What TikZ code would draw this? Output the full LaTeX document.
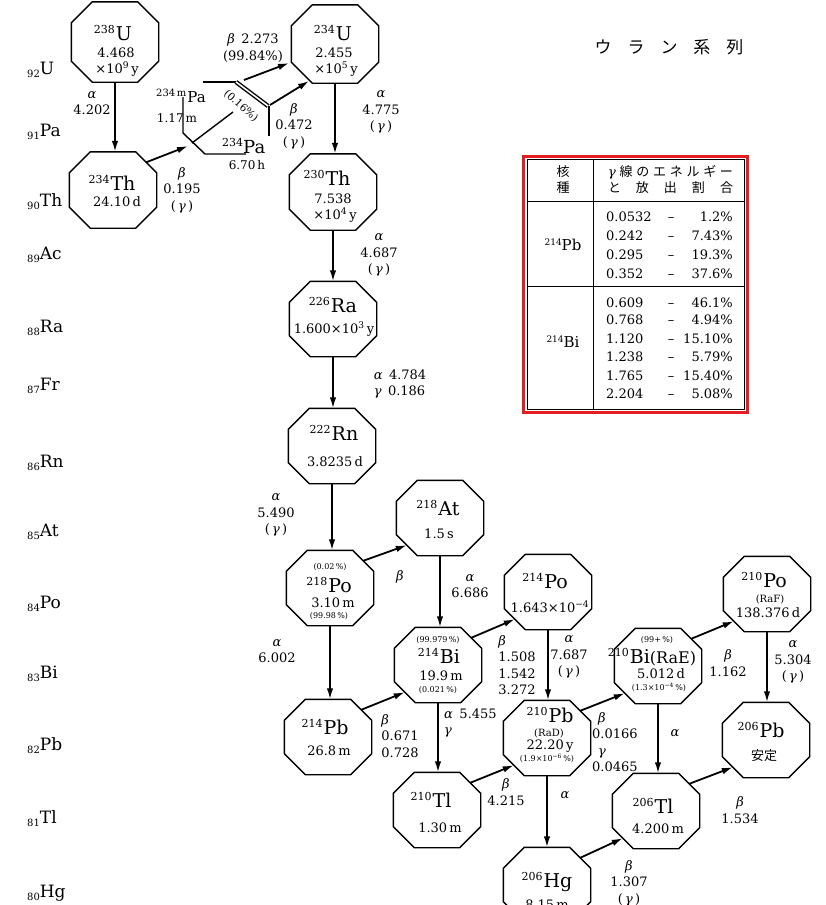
\documentclass[tikz,border=0pt]{standalone}
\usepackage{fontspec}
\setmainfont{DejaVu Serif}
\newfontfamily\jpf{Noto Sans CJK JP}
\usetikzlibrary{arrows.meta}
\newcommand\fs[1]{\fontsize{#1}{#1}\selectfont}
\newcommand\iso[2]{{\fs{11}\raisebox{7pt}{#1}}\kern1pt{\fs{19}#2}}
\newcommand\zl[2]{{\fs{10}\raisebox{-3pt}{#1}}{\fs{17}#2}}
\newcommand\gk[1]{\textit{#1}}
\newcommand\sm[1]{{\fs{8}#1}}
\newcommand\up[1]{\textsuperscript{#1}}
\newcommand\gam{(\,\gk{γ}\,)}
\newcommand\octo[4][75]{%
 \node[octbox, minimum height=#1pt] (#2) at (#3,#4) {};
 \draw[octline] ([xshift=21pt]#2.north west) -- ([xshift=-21pt]#2.north east) -- ([yshift=-21pt]#2.north east) -- ([yshift=21pt]#2.south east) -- ([xshift=-21pt]#2.south east) -- ([xshift=21pt]#2.south west) -- ([yshift=21pt]#2.south west) -- ([yshift=-21pt]#2.north west) -- cycle;
 \coordinate (#2-ne) at ([xshift=-10.5pt,yshift=-10.5pt]#2.north east);
 \coordinate (#2-sw) at ([xshift=10.5pt,yshift=10.5pt]#2.south west);
}
\newcommand\trow[4]{%
 \node[tx,anchor=base west] (#1a) at (606,#2) {#3};
 \node[tx] (#1b) at (671,#2) {–};
 \node[tx,anchor=base east] (#1c) at (733,#2) {#4\%};
}
\newcommand\vdecay[2]{\draw[arr] (#1.south) -- (#1.south |- #2.north);}
\definecolor{tred}{RGB}{226,30,36}
\begin{document}
\begin{tikzpicture}[x=1pt,y=-1pt,
 octline/.style={line width=1.4pt, line join=miter},
 octbox/.style={inner sep=0pt, minimum width=87pt, minimum height=75pt},
 arr/.style={line width=1.8pt, -{Latex[length=11pt,width=6.5pt]}},
 tx/.style={inner sep=0pt, anchor=base, font=\fs{13}},
 lab/.style={inner sep=0pt, align=center, font=\fontsize{13}{16.5}\selectfont},
 labl/.style={lab, align=left},
 zlab/.style={inner sep=0pt, anchor=base west}]
\useasboundingbox (0,0) rectangle (826,905);
\fill[white] (0,0) rectangle (826,905);
\clip (0,0) rectangle (826,905);

% title
\node[inner sep=0pt, font=\jpf\fs{17}] (title) at (669,47) {ウ\hspace{16pt}ラ\hspace{16pt}ン\hspace{16pt}系\hspace{16pt}列};

% Z labels
\node[zlab] (Z92) at (27,74) {\zl{92}{U}};
\node[zlab] (Z91) at (27,136) {\zl{91}{Pa}};
\node[zlab] (Z90) at (27,206) {\zl{90}{Th}};
\node[zlab] (Z89) at (27,259) {\zl{89}{Ac}};
\node[zlab] (Z88) at (27,332) {\zl{88}{Ra}};
\node[zlab] (Z87) at (27,390) {\zl{87}{Fr}};
\node[zlab] (Z86) at (27,467) {\zl{86}{Rn}};
\node[zlab] (Z85) at (27,536) {\zl{85}{At}};
\node[zlab] (Z84) at (27,608) {\zl{84}{Po}};
\node[zlab] (Z83) at (27,678) {\zl{83}{Bi}};
\node[zlab] (Z82) at (27,750) {\zl{82}{Pb}};
\node[zlab] (Z81) at (27,823) {\zl{81}{Tl}};
\node[zlab] (Z80) at (27,897) {\zl{80}{Hg}};

% octagons
\octo[80]{U238}{115}{42}
\octo[78]{U234}{335}{44}
\octo[76]{Th234}{113}{190}
\octo[76]{Th230}{333}{192}
\octo{Ra226}{333}{319}
\octo{Rn222}{332}{446}
\octo{Po218}{330}{588}
\octo{At218}{440}{518}
\octo{Bi214}{438}{665}
\octo{Po214}{548}{592}
\octo{Pb214}{328}{737}
\octo{Pb210}{547}{738}
\octo{Bi210}{658}{666}
\octo{Po210}{767}{594}
\octo{Pb206}{766}{740}
\octo{Tl210}{437}{810}
\octo{Tl206}{656}{811}
\octo{Hg206}{547}{885}

% nuclide texts
\node[tx] (U238a) at (113,40) {\iso{238}{U}};
\node[tx] (U238b) at (116,57) {4.468};
\node[tx] (U238c) at (117,73) {×10\up{9}\,y};
\node[tx] (U234a) at (333,40) {\iso{234}{U}};
\node[tx] (U234b) at (334,57) {2.455};
\node[tx] (U234c) at (336,73) {×10\up{5}\,y};
\node[tx] (Th234a) at (112,190) {\iso{234}{Th}};
\node[tx] (Th234b) at (117,206) {24.10\,d};
\node[tx] (Th230a) at (327,185) {\iso{230}{Th}};
\node[tx] (Th230b) at (333,203) {7.538};
\node[tx] (Th230c) at (335,219) {×10\up{4}\,y};
\node[tx] (Ra226a) at (333,312) {\iso{226}{Ra}};
\node[tx] (Ra226b) at (334,333) {1.600×10\up{3}\,y};
\node[tx] (Rn222a) at (334,440) {\iso{222}{Rn}};
\node[tx] (Rn222b) at (335,466) {3.8235\,d};
\node[tx] (Po218a) at (330,569) {\sm{(0.02\,\%)}};
\node[tx] (Po218b) at (329,592) {\iso{218}{Po}};
\node[tx] (Po218c) at (333,607) {3.10\,m};
\node[tx] (Po218d) at (329,618) {\sm{(99.98\,\%)}};
\node[tx] (At218a) at (438,515) {\iso{218}{At}};
\node[tx] (At218b) at (439,538) {1.5\,s};
\node[tx] (Bi214a) at (438,642) {\sm{(99.979\,\%)}};
\node[tx] (Bi214b) at (439,663) {\iso{214}{Bi}};
\node[tx] (Bi214c) at (441,680) {19.9\,m};
\node[tx] (Bi214d) at (438,692) {\sm{(0.021\,\%)}};
\node[tx] (Po214a) at (545,588) {\iso{214}{Po}};
\node[tx] (Po214b) at (550,612) {1.643×10\up{−4}};
\node[tx] (Pb214a) at (325,734) {\iso{214}{Pb}};
\node[tx] (Pb214b) at (329,755) {26.8\,m};
\node[tx] (Pb210a) at (550,722) {\iso{210}{Pb}};
\node[tx] (Pb210b) at (549,736) {\fs{10}(RaD)};
\node[tx] (Pb210c) at (550,749) {22.20\,y};
\node[tx] (Pb210d) at (547,761) {\sm{(1.9×10\up{−6}\,\%)}};
\node[tx] (Bi210a) at (657,642) {\sm{(99+\,\%)}};
\node[tx] (Bi210b) at (652,663) {\iso{210}{Bi}{\fs{16}(RaE)}};
\node[tx] (Bi210c) at (661,678) {5.012\,d};
\node[tx] (Bi210d) at (659,690) {\sm{(1.3×10\up{−4}\,\%)}};
\node[tx] (Po210a) at (764,587) {\iso{210}{Po}};
\node[tx] (Po210b) at (770,602) {\fs{10}(RaF)};
\node[tx] (Po210c) at (768,617) {138.376\,d};
\node[tx] (Pb206a) at (761,737) {\iso{206}{Pb}};
\node[tx, font=\jpf\fs{13}] (Pb206b) at (764,760) {安定};
\node[tx] (Tl210a) at (431,807) {\iso{210}{Tl}};
\node[tx] (Tl210b) at (440,832) {1.30\,m};
\node[tx] (Tl206a) at (653,813) {\iso{206}{Tl}};
\node[tx] (Tl206b) at (658,833) {4.200\,m};
\node[tx] (Hg206a) at (547,887) {\iso{206}{Hg}};
\node[tx] (Hg206b) at (547,909) {8.15\,m};

% Pa (234m / 234) region
\draw[octline] (203,82) -- (236,82);
\draw[octline, double, double distance=1.6pt] (236,82) -- (268,106);
\draw[octline] (269,106) -- (269,136);
\draw[octline] (246,154) -- (205,154) -- (183,133) -- (183,97);
\draw[octline] (192,143) -- (233,112);
\node[tx, anchor=base west] (Pam) at (156,102) {{\fs{10}\raisebox{6pt}{234\,m}}\kern1pt{\fs{15}Pa}};
\node[tx] (Pamt) at (177,122) {\fs{12}1.17\,m};
\node[tx, anchor=base west] (Pa) at (222,153) {{\fs{11}\raisebox{7pt}{234}}{\fs{18}Pa}};
\node[tx] (Pat) at (247,169) {\fs{12}6.70\,h};
\node[inner sep=0pt, rotate=-42, font=\fs{10.5}] (Paiso) at (241,106) {(0.16\%)};
\coordinate (PaIn) at (188,146);
\coordinate (PamOut) at (244,80);
\coordinate (U234in1) at (289,63);
\coordinate (PaOut) at (270,105);
\coordinate (U234in2) at (309,81);
\draw[arr] (Th234-ne) -- (PaIn);
\draw[arr] (PamOut) -- (U234in1);
\draw[arr] (PaOut) -- (U234in2);

% vertical decays
\vdecay{U238}{Th234}
\vdecay{U234}{Th230}
\vdecay{Th230}{Ra226}
\vdecay{Ra226}{Rn222}
\vdecay{Rn222}{Po218}
\vdecay{Po218}{Pb214}
\vdecay{At218}{Bi214}
\vdecay{Bi214}{Tl210}
\vdecay{Po214}{Pb210}
\vdecay{Pb210}{Hg206}
\vdecay{Bi210}{Tl206}
\vdecay{Po210}{Pb206}

% diagonal decays
\draw[arr] (Po218-ne) -- (At218-sw);
\draw[arr] (Pb214-ne) -- (Bi214-sw);
\draw[arr] (Bi214-ne) -- (Po214-sw);
\draw[arr] (Tl210-ne) -- (Pb210-sw);
\draw[arr] (Pb210-ne) -- (Bi210-sw);
\draw[arr] (Bi210-ne) -- (Po210-sw);
\draw[arr] (Tl206-ne) -- (Pb206-sw);
\draw[arr] (Hg206-ne) -- (Tl206-sw);

% decay labels
\node[lab] (L1) at (92,103) {\gk{α}\\4.202};
\node[lab] (L2) at (182,190) {\gk{β}\\0.195\\\gam};
\node[lab] (L3) at (253,48) {\gk{β}\enspace 2.273\\(99.84\%)};
\node[lab] (L4) at (294,126) {\gk{β}\\0.472\\\gam};
\node[lab] (L5) at (381,112) {\gk{α}\\4.775\\\gam};
\node[lab] (L6) at (379,255) {\gk{α}\\4.687\\\gam};
\node[labl] (L7) at (400,384) {\gk{α}\enspace 4.784\\\gk{γ}\enspace 0.186};
\node[lab] (L8) at (276,515) {\gk{α}\\5.490\\\gam};
\node[lab] (L9) at (400,577) {\gk{β}};
\node[lab] (L10) at (470,586) {\gk{α}\\6.686};
\node[lab] (L11) at (277,651) {\gk{α}\\6.002};
\node[labl] (L12) at (400,736) {\gk{β}\\0.671\\0.728};
\node[labl] (L13) at (517,665) {\gk{β}\\1.508\\1.542\\3.272};
\node[lab] (L14) at (569,657) {\gk{α}\\7.687\\\gam};
\node[labl, anchor=west] (L15) at (444,723) {\gk{α}\enspace 5.455\\\gk{γ}};
\node[lab] (L16) at (506,792) {\gk{β}\\4.215};
\node[labl, anchor=west] (L17) at (592,742) {\hspace*{6pt}\gk{β}\\0.0166\\\hspace*{6pt}\gk{γ}\\0.0465};
\node[lab] (L18) at (565,795) {\gk{α}};
\node[lab] (L19) at (728,663) {\gk{β}\\1.162};
\node[lab] (L20) at (675,733) {\gk{α}};
\node[lab] (L21) at (793,662) {\gk{α}\\5.304\\\gam};
\node[lab] (L22) at (740,810) {\gk{β}\\1.534};
\node[lab] (L23) at (629,883) {\gk{β}\\1.307\\\gam};

% table
\draw[line width=0.9pt] (527,159) rectangle (744,409);
\draw[line width=0.9pt] (593,159) -- (593,409);
\draw[line width=0.9pt] (527,201) -- (744,201);
\draw[line width=0.9pt] (527,286) -- (744,286);
\draw[tred, line width=3pt] (523,156) rectangle (747,412);
\node[inner sep=0pt, font=\jpf\fs{13}] (h1) at (563,172) {核};
\node[inner sep=0pt, font=\jpf\fs{13}] (h2) at (563,188) {種};
\node[inner sep=0pt, text width=125pt, font=\jpf\fs{13}] (h3) at (670.5,172) {\noindent{\rmfamily\textit{γ}}\hfill 線\hfill の\hfill エ\hfill ネ\hfill ル\hfill ギ\hfill ー};
\node[inner sep=0pt, text width=125pt, font=\jpf\fs{13}] (h4) at (670.5,188) {\noindent と\hfill 放\hfill 出\hfill 割\hfill 合};
\node[inner sep=0pt] (tPb) at (563,245) {{\fs{9}\raisebox{5pt}{214}}{\fs{15}Pb}};
\node[inner sep=0pt] (tBi) at (563,342) {{\fs{9}\raisebox{5pt}{214}}{\fs{15}Bi}};
\trow{ra}{221.5}{0.0532}{1.2}
\trow{rb}{240.5}{0.242}{7.43}
\trow{rc}{259.5}{0.295}{19.3}
\trow{rd}{278.5}{0.352}{37.6}
\trow{re}{307.5}{0.609}{46.1}
\trow{rf}{324.5}{0.768}{4.94}
\trow{rg}{343.5}{1.120}{15.10}
\trow{rh}{361.5}{1.238}{5.79}
\trow{ri}{380.5}{1.765}{15.40}
\trow{rj}{398.5}{2.204}{5.08}
\end{tikzpicture}
\end{document}
